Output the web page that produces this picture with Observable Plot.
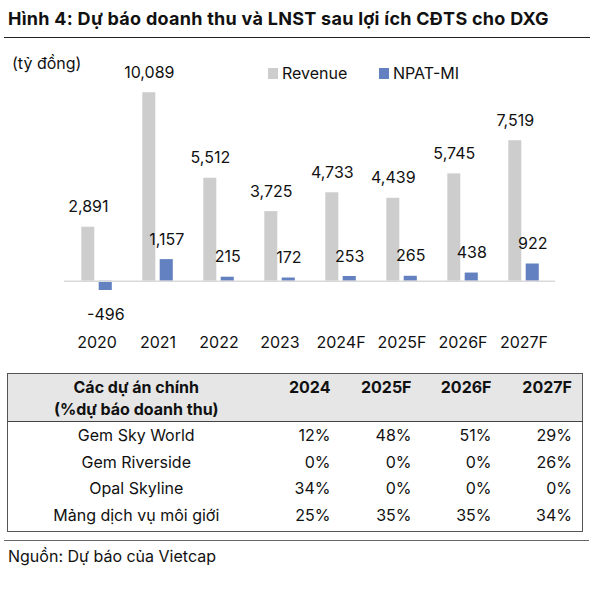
<!DOCTYPE html>
<html>
<head>
<meta charset="utf-8">
<script src="https://cdn.jsdelivr.net/npm/d3@7"></script>
<script src="https://cdn.jsdelivr.net/npm/@observablehq/plot@0.6"></script>
<style>
  html, body { margin: 0; padding: 0; background: #fff; }
  body { width: 606px; height: 592px; position: relative; overflow: hidden; font-family: Inter, "Noto Sans", sans-serif; color: #111; }
  .abs { position: absolute; white-space: nowrap; }
  #title { left: 8px; top: 7px; font-size: 18px; font-weight: 700; line-height: 24px; letter-spacing: 0.27px; }
  .rule { position: absolute; height: 0; }
  #unit { left: 12px; top: 52px; font-size: 16px; line-height: 22px; }
  .legend { top: 62px; font-size: 16px; line-height: 22px; display: flex; align-items: center; }
  .sw { width: 10px; height: 11px; display: inline-block; margin-right: 4px; }
  #chart { position: absolute; left: 0; top: 40px; }
  table { position: absolute; left: 7px; top: 373px; border-collapse: collapse; table-layout: fixed; border: 1.5px solid #555; font-size: 16px; }
  th, td { padding: 0; }
  thead tr { background: #e6e6e6; border-bottom: 1.5px solid #444; }
  th { font-weight: 700; line-height: 22.7px; height: 45.5px; vertical-align: top; padding-top: 1.5px; }
  td { line-height: 26.7px; height: 26.7px; }
  tbody tr:last-child td { padding-bottom: 2px; }
  .c1 { text-align: center; }
  td.num, th.num { text-align: right; padding-right: 10px; }
  #source { left: 8px; top: 545px; font-size: 16px; line-height: 22px; }
</style>
</head>
<body>
<div id="title" class="abs">Hình 4: Dự báo doanh thu và LNST sau lợi ích CĐTS cho DXG</div>
<div class="rule" style="left:4px; width:586px; top:37px; border-top:1.5px solid #222;"></div>
<div id="unit" class="abs">(tỷ đồng)</div>
<div id="chart"></div>
<div id="tablewrap"></div>
<div class="rule" style="left:4px; width:585px; top:540px; border-top:1.5px solid #666;"></div>
<div id="source" class="abs">Nguồn: Dự báo của Vietcap</div>
<script>
const years = ["2020", "2021", "2022", "2023", "2024F", "2025F", "2026F", "2027F"];
const revenue = [2891, 10089, 5512, 3725, 4733, 4439, 5745, 7519];
const npat = [-496, 1157, 215, 172, 253, 265, 438, 922];
const seriesNames = ["Revenue", "NPAT-MI"];
const seriesColors = ["#cdcdcd", "#6381c0"];

const tableHeader = ["Các dự án chính\n(%dự báo doanh thu)", "2024", "2025F", "2026F", "2027F"];
const projects = ["Gem Sky World", "Gem Riverside", "Opal Skyline", "Mảng dịch vụ môi giới"];
const share2024 = ["12%", "0%", "34%", "25%"];
const share2025 = ["48%", "0%", "0%", "35%"];
const share2026 = ["51%", "0%", "0%", "35%"];
const share2027 = ["29%", "26%", "0%", "34%"];

const rev = years.map((y, i) => ({year: y, value: revenue[i]}));
const np = years.map((y, i) => ({year: y, value: npat[i]}));
const fmt = v => d3.format(",")(v).replace("\u2212", "-");

const chart = Plot.plot({
  width: 606,
  height: 320,
  marginLeft: 64,
  marginRight: 51,
  marginTop: 16.5,
  marginBottom: 41.9,
  style: {fontFamily: "Inter, 'Noto Sans', sans-serif", fontSize: "16px", color: "#111", background: "transparent", overflow: "visible"},
  x: {domain: years, padding: 0},
  y: {domain: [-2000, 12000], axis: null},
  marks: [
    Plot.barY(rev, {x: "year", y: "value", fill: seriesColors[0], insetLeft: 15.3, insetRight: 32.7}),
    Plot.barY(np, {x: "year", y: "value", fill: seriesColors[1], insetLeft: 32.7, insetRight: 15.2}),
    Plot.ruleY([0], {stroke: "#d9d9d9", strokeWidth: 1.5}),
    Plot.text(rev, {x: "year", y: "value", text: d => fmt(d.value), dx: -8.7, dy: -20, fill: "#111", fontSize: 16}),
    Plot.text(np.filter(d => d.value >= 0), {x: "year", y: "value", text: d => fmt(d.value), dx: 8.8, dy: -20, fill: "#111", fontSize: 16}),
    Plot.text(np.filter(d => d.value < 0), {x: "year", y: "value", text: d => fmt(d.value), dx: 8.8, dy: 24, fill: "#111", fontSize: 16}),
    Plot.axisX({anchor: "bottom", tickSize: 0, tickPadding: 18, label: null, fontSize: 16, fill: "#111"})
  ]
});
document.getElementById("chart").appendChild(chart);

// legend
const legendPos = [268, 379];
seriesNames.forEach((name, i) => {
  const el = document.createElement("div");
  el.className = "abs legend";
  el.style.left = legendPos[i] + "px";
  el.innerHTML = `<span class="sw" style="background:${seriesColors[i]}"></span><span>${name}</span>`;
  document.body.appendChild(el);
});

// table
const widths = [257, 76, 81, 80, 81];
let html = "<table><colgroup>" + widths.map(w => `<col style="width:${w}px">`).join("") + "</colgroup><thead><tr>";
tableHeader.forEach((h, i) => {
  html += `<th class="${i === 0 ? "c1" : "num"}">${h.replace("\n", "<br>")}</th>`;
});
html += "</tr></thead><tbody>";
projects.forEach((p, i) => {
  html += `<tr><td class="c1">${p}</td><td class="num">${share2024[i]}</td><td class="num">${share2025[i]}</td><td class="num">${share2026[i]}</td><td class="num">${share2027[i]}</td></tr>`;
});
html += "</tbody></table>";
document.getElementById("tablewrap").innerHTML = html;
</script>
</body>
</html>
